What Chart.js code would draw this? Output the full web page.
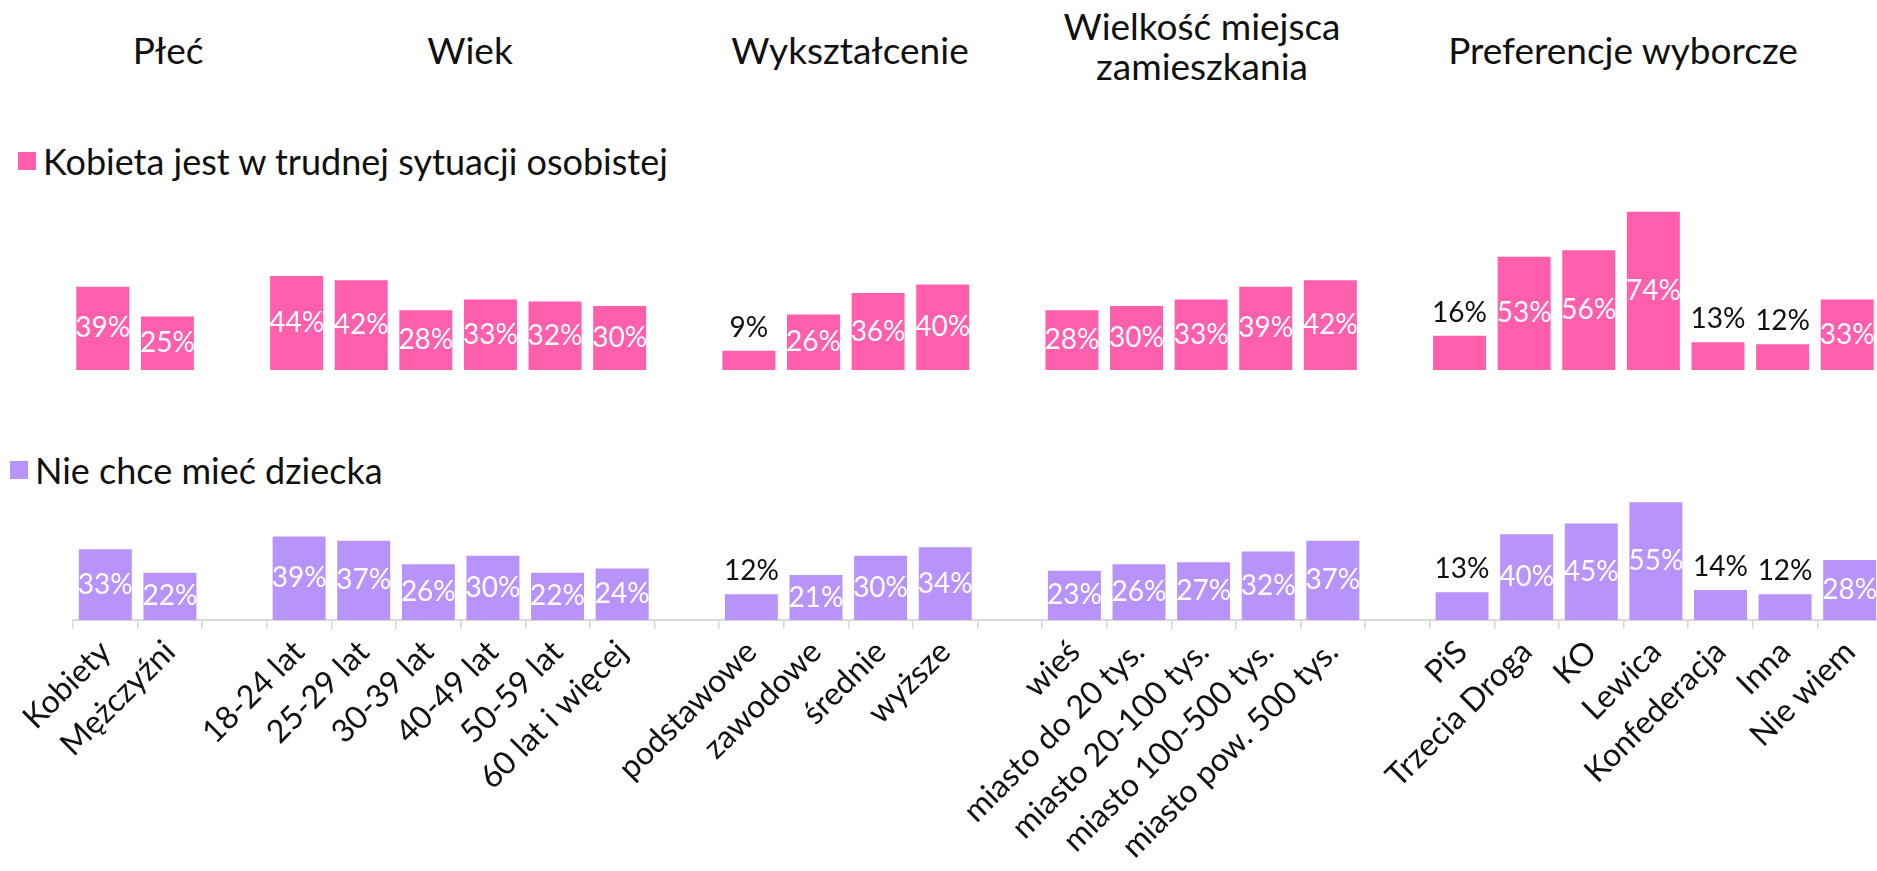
<!DOCTYPE html>
<html>
<head>
<meta charset="utf-8">
<script src="https://cdn.jsdelivr.net/npm/chart.js@4"></script>
<style>
  html, body { margin: 0; padding: 0; width: 1877px; height: 871px; overflow: hidden; background: #fff; }
  body { font-family: Lato, sans-serif; color: #111; position: relative; }
  .title { position: absolute; transform: translateX(-50%); font-size: 37px; line-height: 40px; text-align: center; white-space: nowrap; }
  .legend { position: absolute; font-size: 36px; line-height: 40px; white-space: nowrap; display: flex; align-items: center; }
  .legend .box { display: inline-block; width: 18px; height: 18px; margin-right: 7px; }
  #topWrap { position: absolute; left: 0; top: 199px; width: 1885px; height: 171px; }
  #bottomWrap { position: absolute; left: 0; top: 470px; width: 1885px; height: 401px; }
</style>
</head>
<body>
<div class="title" style="left:168px; top:30px">Płeć</div>
<div class="title" style="left:470px; top:30px">Wiek</div>
<div class="title" style="left:850px; top:30px">Wykształcenie</div>
<div class="title" style="left:1202px; top:6px">Wielkość miejsca<br>zamieszkania</div>
<div class="title" style="left:1623px; top:30px">Preferencje wyborcze</div>

<div class="legend" style="left:18px; top:141px"><span class="box" style="background:#ff5fad"></span>Kobieta jest w trudnej sytuacji osobistej</div>
<div class="legend" style="left:10px; top:450px"><span class="box" style="background:#b893fa"></span>Nie chce mieć dziecka</div>

<div id="topWrap"><canvas id="topChart"></canvas></div>
<div id="bottomWrap"><canvas id="bottomChart"></canvas></div>

<script>
const categories = [
  "Kobiety", "Mężczyźni", "",
  "18-24 lat", "25-29 lat", "30-39 lat", "40-49 lat", "50-59 lat", "60 lat i więcej", "",
  "podstawowe", "zawodowe", "średnie", "wyższe", "",
  "wieś", "miasto do 20 tys.", "miasto 20-100 tys.", "miasto 100-500 tys.", "miasto pow. 500 tys.", "",
  "PiS", "Trzecia Droga", "KO", "Lewica", "Konfederacja", "Inna", "Nie wiem"
];
const trudnaSytuacja = [39, 25, null, 44, 42, 28, 33, 32, 30, null, 9, 26, 36, 40, null, 28, 30, 33, 39, 42, null, 16, 53, 56, 74, 13, 12, 33];
const nieChceDziecka = [33, 22, null, 39, 37, 26, 30, 22, 24, null, 12, 21, 30, 34, null, 23, 26, 27, 32, 37, null, 13, 40, 45, 55, 14, 12, 28];

const pink = "#ff5fad";
const purple = "#b893fa";

// percent labels: white inside tall bars, black above short ones
const valueLabels = {
  id: "valueLabels",
  afterDatasetsDraw(chart) {
    const ctx = chart.ctx;
    const values = chart.data.datasets[0].data;
    ctx.save();
    ctx.font = "28px Lato";
    ctx.textAlign = "center";
    chart.getDatasetMeta(0).data.forEach((bar, i) => {
      const v = values[i];
      if (v == null) return;
      if (v >= 20) {
        ctx.fillStyle = "#fff";
        ctx.textBaseline = "middle";
        ctx.fillText(v + "%", bar.x, (bar.y + bar.base) / 2);
      } else {
        ctx.fillStyle = "#111";
        ctx.textBaseline = "alphabetic";
        ctx.fillText(v + "%", bar.x, bar.y - 14);
      }
    });
    ctx.restore();
  }
};

function makeChart(id, values, color, yMax, padLeft, padRight, xAxis) {
  return new Chart(document.getElementById(id), {
    type: "bar",
    data: {
      labels: categories,
      datasets: [{
        data: values,
        backgroundColor: color,
        barPercentage: 0.82,
        categoryPercentage: 1
      }]
    },
    options: {
      responsive: true,
      maintainAspectRatio: false,
      animation: false,
      layout: { padding: { left: padLeft, right: padRight, top: 0, bottom: 0 } },
      plugins: { legend: { display: false }, tooltip: { enabled: false } },
      scales: {
        y: { display: false, min: 0, max: yMax },
        x: xAxis
      }
    },
    plugins: [valueLabels]
  });
}

makeChart("topChart", trudnaSytuacja, pink, 80, 70.5, 5.5, { display: false });

makeChart("bottomChart", nieChceDziecka, purple, 70, 73, 3, {
  border: { display: true, color: "#d9d9d9", width: 2 },
  grid: { display: true, drawOnChartArea: false, tickLength: 9, color: "#d9d9d9", lineWidth: 1.5, offset: true },
  ticks: {
    autoSkip: false,
    minRotation: 45,
    maxRotation: 45,
    padding: 4,
    color: "#111",
    font: { family: "Lato", size: 32 }
  },
  afterFit(scale) { scale.height = 251; }
});
</script>
</body>
</html>
